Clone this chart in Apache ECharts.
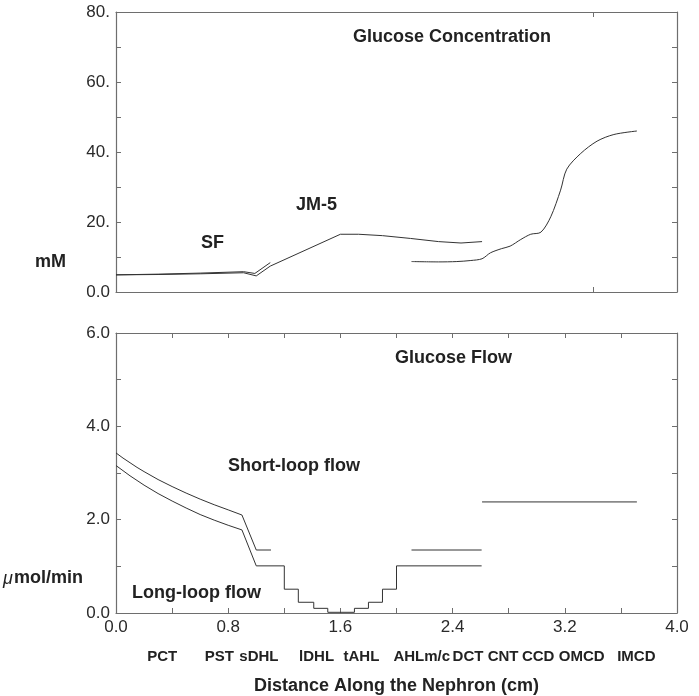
<!DOCTYPE html>
<html>
<head>
<meta charset="utf-8">
<script src="https://cdn.jsdelivr.net/npm/echarts@6/dist/echarts.min.js"></script>
<style>
html,body{margin:0;padding:0;background:#fff;}
#c{width:699px;height:696px;}
</style>
</head>
<body>
<div id="c"></div>
<script>
// ---- data (distance along nephron in cm, value) ----
const concSF = [[0,4.9],[0.3,5.1],[0.6,5.4],[0.91,5.8],[0.99,5.3],[1.1,8.4]];
const concJM5 = [[0,4.9],[0.3,5.0],[0.6,5.2],[0.91,5.5],[1.0,4.6],[1.1,7.4],[1.6,16.5],[1.73,16.5],[1.9,16.1],[2.1,15.3],[2.3,14.4],[2.46,14.0],[2.61,14.4]];
const concDistal = [[2.107,8.7],[2.3,8.6],[2.43,8.7],[2.53,9.0],[2.61,9.5],[2.67,11.2],[2.75,12.4],[2.81,13.1],[2.886,15.0],[2.957,16.5],[3.03,17.1],[3.1,21.5],[3.17,29.1],[3.214,35.1],[3.314,39.6],[3.43,43.1],[3.55,45.0],[3.714,46.0]];

const flowShortProx = [[0,3.43],[0.05,3.32],[0.1,3.22],[0.15,3.12],[0.2,3.03],[0.3,2.86],[0.4,2.71],[0.5,2.57],[0.6,2.44],[0.7,2.32],[0.8,2.21],[0.898,2.10],[1.0,1.35],[1.105,1.35]];
const flowShortDistal = [[2.107,1.35],[2.607,1.35]];
const flowLongProx = [[0,3.16],[0.05,3.05],[0.1,2.94],[0.15,2.84],[0.2,2.74],[0.3,2.56],[0.4,2.40],[0.5,2.25],[0.6,2.11],[0.7,1.99],[0.8,1.88],[0.898,1.78],[1.0,1.01]];
const flowLongLoop = [[1.0,1.01],[1.2,0.51],[1.30,0.23],[1.41,0.10],[1.51,0.015],[1.70,0.10],[1.80,0.23],[1.90,0.51],[2.0,1.01],[2.607,1.01]];
const flowCD = [[2.61,2.38],[3.714,2.38]];

// ---- tick labels ----
const xTickValues = [0, 0.8, 1.6, 2.4, 3.2, 4.0];
const xTickLabels = ['0.0', '0.8', '1.6', '2.4', '3.2', '4.0'];
const concTickValues = [0, 20, 40, 60, 80];
const concTickLabels = ['0.0', '20.', '40.', '60.', '80.'];
const flowTickValues = [0, 2, 4, 6];
const flowTickLabels = ['0.0', '2.0', '4.0', '6.0'];

// ---- segment names under the x axis ----
const segmentNames = ['PCT','PST','sDHL','lDHL','tAHL','AHLm/c','DCT','CNT','CCD','OMCD','IMCD'];
const segmentCenters = [0.33,0.736,1.019,1.43,1.75,2.18,2.51,2.76,3.01,3.32,3.71];

function lookup(vals, labels) {
  return function (v) {
    for (let i = 0; i < vals.length; i++) if (Math.abs(v - vals[i]) < 1e-6) return labels[i];
    return '';
  };
}

const FONT = '"Liberation Sans", Arial, sans-serif';
const axisColor = '#6e6e6e';
const lineColor = '#333';

function xAx(grid, pos, interval, showLabel) {
  return {
    type: 'value', gridIndex: grid, position: pos, min: 0, max: 4, interval: interval,
    axisLine: { show: true, onZero: false, lineStyle: { color: axisColor, width: 1.2 } },
    axisTick: { show: true, inside: true, length: 5, lineStyle: { color: axisColor } },
    axisLabel: { show: showLabel, formatter: lookup(xTickValues, xTickLabels), color: '#2a2a2a', fontSize: 17, fontFamily: FONT, margin: 6 },
    splitLine: { show: false }
  };
}
function yAx(grid, pos, max, interval, fmt) {
  return {
    type: 'value', gridIndex: grid, position: pos, min: 0, max: max, interval: interval,
    axisLine: { show: true, onZero: false, lineStyle: { color: axisColor, width: 1.2 } },
    axisTick: { show: true, inside: true, length: 5, lineStyle: { color: axisColor } },
    axisLabel: { show: !!fmt, formatter: fmt, color: '#2a2a2a', fontSize: 17, fontFamily: FONT, margin: 6 },
    splitLine: { show: false }
  };
}
function line(data, xi, yi, extra) {
  return Object.assign({
    type: 'line', data: data, xAxisIndex: xi, yAxisIndex: yi,
    showSymbol: false, symbol: 'none', silent: true, animation: false,
    lineStyle: { color: lineColor, width: 1 }
  }, extra || {});
}

const chart = echarts.init(document.getElementById('c'), null, { renderer: 'canvas' });

const option = {
  backgroundColor: '#fff',
  animation: false,
  grid: [
    { left: 116, top: 12, width: 561, height: 280 },
    { left: 116, top: 333, width: 561, height: 280 }
  ],
  xAxis: [
    xAx(0, 'bottom', 3.4, false),
    xAx(0, 'top', 3.4, false),
    Object.assign(xAx(1, 'bottom', 0.4, true), {
      name: 'Distance Along the Nephron (cm)', nameLocation: 'middle', nameGap: 64,
      nameTextStyle: { fontSize: 18, fontWeight: 'bold', color: '#222', fontFamily: FONT }
    }),
    xAx(1, 'top', 0.4, false)
  ],
  yAxis: [
    yAx(0, 'left', 80, 10, lookup(concTickValues, concTickLabels)),
    yAx(0, 'right', 80, 10, null),
    yAx(1, 'left', 6, 1, lookup(flowTickValues, flowTickLabels)),
    yAx(1, 'right', 6, 1, null)
  ],
  series: [
    line(concSF, 0, 0),
    line(concJM5, 0, 0),
    line(concDistal, 0, 0, { smooth: 0.3 }),
    line(flowShortProx, 2, 2),
    line(flowShortDistal, 2, 2),
    line(flowLongProx, 2, 2),
    line(flowLongLoop, 2, 2, { step: 'end' }),
    line(flowCD, 2, 2)
  ]
};
chart.setOption(option);

function t(text, x, y, font, align) {
  return { type: 'text', x: x, y: y, silent: true,
    style: { text: text, fill: '#222', font: font, textAlign: align || 'left', textVerticalAlign: 'middle' } };
}
const B18 = 'bold 18px ' + FONT;
const graphics = [
  t('Glucose Concentration', 353, 37, B18),
  t('JM-5', 296, 205, B18),
  t('SF', 201, 243, B18),
  t('Glucose Flow', 395, 358, B18),
  t('Short-loop flow', 228, 466, B18),
  t('Long-loop flow', 132, 593, B18),
  t('mM', 35, 262, B18),
  t('μ', 3, 579, 'italic 18px ' + FONT),
  t('mol/min', 14, 578, B18)
];
for (let i = 0; i < segmentNames.length; i++) {
  const px = chart.convertToPixel({ xAxisIndex: 2 }, segmentCenters[i]);
  graphics.push(t(segmentNames[i], px, 657, 'bold 15px ' + FONT, 'center'));
}
chart.setOption({ graphic: graphics });
</script>
</body>
</html>
